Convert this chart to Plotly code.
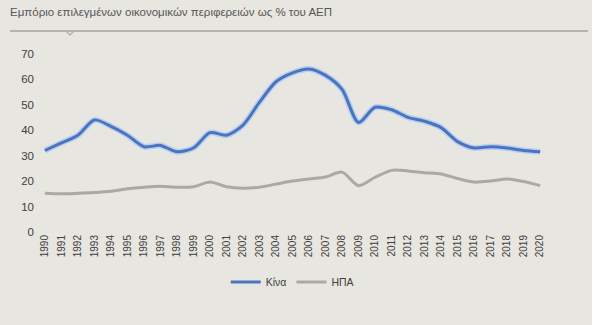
import plotly.graph_objects as go

years = list(range(1990, 2021))
china = [32, 35, 38, 44, 41.5, 38, 33.5, 34, 31.5, 33, 39, 38, 42, 51, 59, 62.5, 64,
         61.5, 56, 43, 49, 48, 45, 43.5, 41, 35.5, 33, 33.5, 33, 32, 31.5]
usa = [15.2, 15, 15.2, 15.5, 16, 17, 17.6, 18, 17.6, 17.8, 19.6, 17.8, 17.2, 17.6, 18.8,
       20, 20.8, 21.6, 23.5, 18.2, 21.5, 24.2, 24, 23.3, 22.8, 21, 19.6, 20, 20.8, 19.8, 18.2]
y_ticks = [0, 10, 20, 30, 40, 50, 60, 70]
title = "Εμπόριο επιλεγμένων οικονομικών περιφερειών ως % του ΑΕΠ"
names = ["Κίνα", "ΗΠΑ"]

W, H = 600, 325
L, R, T, B = 35, 40, 41, 93
pw = W - L - R
ph = H - T - B

def px(x):
    return (x - L) / pw

def py(y):
    return (H - B - y) / ph

BG = "#e7e6e1"
fig = go.Figure()
fig.add_trace(go.Scatter(x=years, y=china, mode="lines", line=dict(color="#bccfee", width=6, shape="spline", smoothing=0.8),
                         showlegend=False, hoverinfo="skip"))
fig.add_trace(go.Scatter(x=years, y=china, mode="lines", name=names[0],
                         line=dict(color="#4a74c0", width=3, shape="spline", smoothing=0.8)))
fig.add_trace(go.Scatter(x=years, y=usa, mode="lines", name=names[1],
                         line=dict(color="#a9a9a7", width=3, shape="spline", smoothing=0.8)))

fig.update_layout(
    width=W, height=H,
    margin=dict(l=L, r=R, t=T, b=B),
    paper_bgcolor=BG, plot_bgcolor=BG,
    font=dict(family="Liberation Sans, Arial", size=10, color="#404040"),
    xaxis=dict(range=[1989.4, 2021.2], tickmode="array", tickvals=years,
               ticktext=[str(y) for y in years], tickangle=-90, showgrid=False,
               zeroline=False, showline=False, ticks="", tickfont=dict(size=10)),
    yaxis=dict(range=[0, 75], tickmode="array", tickvals=y_ticks, showgrid=False,
               zeroline=False, showline=False, ticks="", tickfont=dict(size=11.5)),
    legend=dict(orientation="h", x=0.49, xanchor="center", y=py(282), yanchor="middle",
                font=dict(size=10.5, color="#404040"), bgcolor="rgba(0,0,0,0)",
                itemwidth=30, tracegroupgap=0),
    showlegend=True,
)

fig.add_annotation(text=title, xref="paper", yref="paper", x=px(8), y=py(12),
                   xanchor="left", yanchor="middle", showarrow=False,
                   font=dict(size=11.5, color="#555555"))
# header rule with notch
fig.add_shape(type="line", xref="paper", yref="paper", x0=px(10), x1=px(588), y0=py(31), y1=py(31),
              line=dict(color="#b3b3b3", width=2))
fig.add_shape(type="path", xref="paper", yref="paper",
              path=f"M {px(66)} {py(31)} L {px(70)} {py(35)} L {px(74)} {py(31)}",
              line=dict(color="#b3b3b3", width=1.5))
# white strip on the right
fig.add_shape(type="rect", xref="paper", yref="paper", x0=px(592), x1=px(601), y0=py(-1), y1=py(326),
              fillcolor="white", line=dict(width=0), layer="below")

fig.write_html("out.html")
